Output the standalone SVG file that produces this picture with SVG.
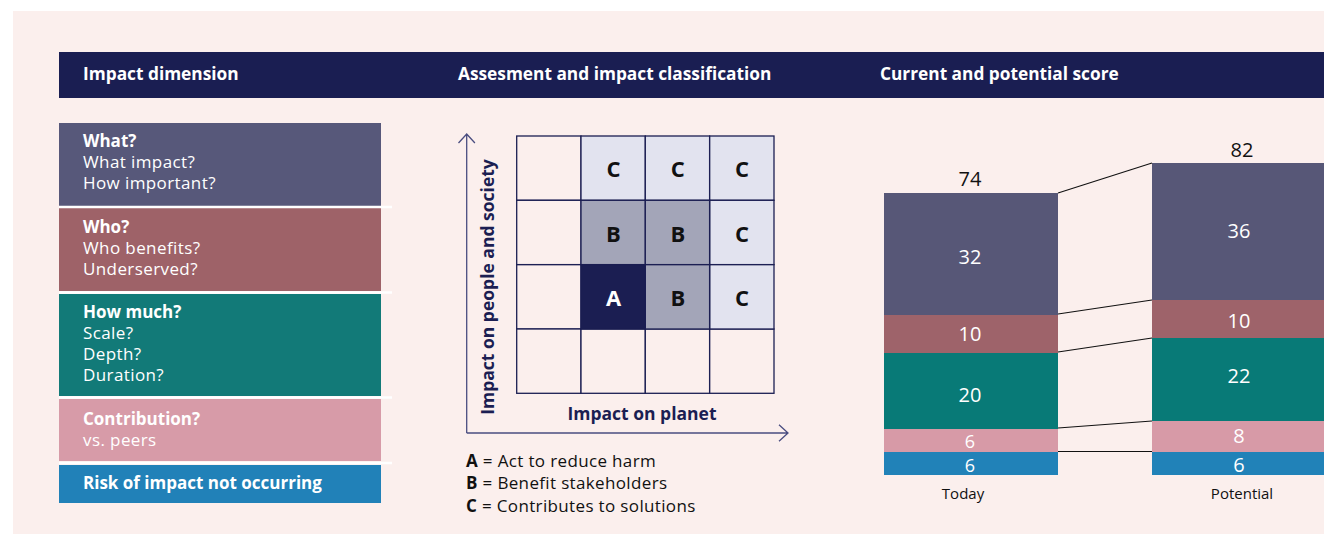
<svg xmlns="http://www.w3.org/2000/svg" width="1324" height="534" viewBox="0 0 1324 534">
<style>
text{font-family:"Open Sans","Noto Sans","Liberation Sans",sans-serif}
.hd{fill:#fff;font-size:17.3px;font-weight:700}
.bx{fill:#fff;font-size:17px;letter-spacing:0.4px}
.bb{font-weight:700;letter-spacing:0}
.cell{stroke:#1B1E52;stroke-width:1.3}
.lt{font-size:22px;font-weight:700;text-anchor:middle}
.ax{fill:#1B1E52;font-size:17.5px;font-weight:700}
.lg{fill:#111;font-size:17px;letter-spacing:0.35px}
.sv{fill:#fff;font-size:20px;text-anchor:middle}
.sm{font-size:18px}
.tot{fill:#111;font-size:20px;text-anchor:middle}
.cap{fill:#111;font-size:15px;text-anchor:middle}
.conn{stroke:#111;stroke-width:1.1;fill:none}
.axis{stroke:#4A4D80;stroke-width:1.3;fill:none}
</style>
<rect x="0" y="0" width="1324" height="534" fill="#fff"/>
<rect x="13" y="11" width="1311" height="523" fill="#FBEFED"/>
<g id="header">
<rect x="59" y="52" width="1265" height="46" fill="#1A1E52"/>
<text class="hd" x="83" y="80">Impact dimension</text>
<text class="hd" x="458" y="80">Assesment and impact classification</text>
<text class="hd" x="880" y="80">Current and potential score</text>
</g>
<g id="dim-what">
<rect x="59" y="123" width="322" height="83" fill="#57587A"/>
<text class="bx" x="83" y="147"><tspan class="bb">What?</tspan><tspan x="83" dy="21">What impact?</tspan><tspan x="83" dy="21">How important?</tspan></text>
</g>
<g id="dim-who">
<rect x="59" y="208" width="322" height="83" fill="#9E6268"/>
<text class="bx" x="83" y="233"><tspan class="bb">Who?</tspan><tspan x="83" dy="21">Who benefits?</tspan><tspan x="83" dy="21">Underserved?</tspan></text>
</g>
<g id="dim-howmuch">
<rect x="59" y="294" width="322" height="102" fill="#127A78"/>
<text class="bx" x="83" y="318"><tspan class="bb">How much?</tspan><tspan x="83" dy="21">Scale?</tspan><tspan x="83" dy="21">Depth?</tspan><tspan x="83" dy="21">Duration?</tspan></text>
</g>
<g id="dim-contribution">
<rect x="59" y="399" width="322" height="62" fill="#D79BA8"/>
<text class="bx" x="83" y="425"><tspan class="bb">Contribution?</tspan><tspan x="83" dy="21">vs. peers</tspan></text>
</g>
<g id="dim-risk">
<rect x="59" y="465" width="322" height="38" fill="#2181B8"/>
<text class="bx bb" x="83" y="489">Risk of impact not occurring</text>
</g>
<g id="matrix">
<g fill="#FBEFED">
<rect class="cell" x="516.7" y="136" width="64.3" height="64.3"/>
<rect class="cell" x="516.7" y="200.3" width="64.3" height="64.3"/>
<rect class="cell" x="516.7" y="264.7" width="64.3" height="64.3"/>
<rect class="cell" x="516.7" y="329" width="64.3" height="64.3"/>
<rect class="cell" x="581" y="329" width="64.3" height="64.3"/>
<rect class="cell" x="645.3" y="329" width="64.3" height="64.3"/>
<rect class="cell" x="709.7" y="329" width="64.3" height="64.3"/>
</g>
<g fill="#E2E3EF">
<rect class="cell" x="581" y="136" width="64.3" height="64.3"/>
<rect class="cell" x="645.3" y="136" width="64.3" height="64.3"/>
<rect class="cell" x="709.7" y="136" width="64.3" height="64.3"/>
<rect class="cell" x="709.7" y="200.3" width="64.3" height="64.3"/>
<rect class="cell" x="709.7" y="264.7" width="64.3" height="64.3"/>
</g>
<g fill="#A3A5B8">
<rect class="cell" x="581" y="200.3" width="64.3" height="64.3"/>
<rect class="cell" x="645.3" y="200.3" width="64.3" height="64.3"/>
<rect class="cell" x="645.3" y="264.7" width="64.3" height="64.3"/>
</g>
<rect class="cell" x="581" y="264.7" width="64.3" height="64.3" fill="#1B1E52"/>
<g fill="#111">
<text class="lt" x="613.5" y="177">C</text>
<text class="lt" x="677.8" y="177">C</text>
<text class="lt" x="742" y="177">C</text>
<text class="lt" x="613.5" y="241.5">B</text>
<text class="lt" x="677.8" y="241.5">B</text>
<text class="lt" x="742" y="241.5">C</text>
<text class="lt" x="613.5" y="306" fill="#fff">A</text>
<text class="lt" x="677.8" y="306">B</text>
<text class="lt" x="742" y="306">C</text>
</g>
</g>
<g id="axes">
<path class="axis" d="M466.7 433 V134 M458.5 143 L466.7 134 L474.9 143"/>
<path class="axis" d="M466.7 433 H788 M779 424.8 L788 433 L779 441.2"/>
<text class="ax" transform="translate(494 287) rotate(-90)" text-anchor="middle">Impact on people and society</text>
<text class="ax" x="642" y="420" text-anchor="middle">Impact on planet</text>
</g>
<g id="legend">
<text class="lg" x="466" y="467"><tspan font-weight="700">A</tspan> = Act to reduce harm</text>
<text class="lg" x="466" y="489"><tspan font-weight="700">B</tspan> = Benefit stakeholders</text>
<text class="lg" x="466" y="512"><tspan font-weight="700">C</tspan> = Contributes to solutions</text>
</g>
<g id="bar-today">
<rect x="884" y="193" width="174" height="122" fill="#575777"/>
<rect x="884" y="315" width="174" height="38" fill="#9E636A"/>
<rect x="884" y="353" width="174" height="76" fill="#087A77"/>
<rect x="884" y="429" width="174" height="23" fill="#D79AA7"/>
<rect x="884" y="452" width="174" height="23" fill="#2182B8"/>
<text class="tot" x="970" y="186">74</text>
<text class="sv" x="970" y="264">32</text>
<text class="sv" x="970" y="341">10</text>
<text class="sv" x="970" y="402">20</text>
<text class="sv sm" x="970" y="448">6</text>
<text class="sv sm" x="970" y="472">6</text>
<text class="cap" x="963" y="499">Today</text>
</g>
<g id="bar-potential">
<rect x="1152" y="163" width="172" height="137" fill="#575777"/>
<rect x="1152" y="300" width="172" height="38" fill="#9E636A"/>
<rect x="1152" y="338" width="172" height="83" fill="#087A77"/>
<rect x="1152" y="421" width="172" height="31" fill="#D79AA7"/>
<rect x="1152" y="452" width="172" height="23" fill="#2182B8"/>
<text class="tot" x="1242" y="157">82</text>
<text class="sv" x="1239" y="238">36</text>
<text class="sv" x="1239" y="328">10</text>
<text class="sv" x="1239" y="383">22</text>
<text class="sv" x="1239" y="443">8</text>
<text class="sv" x="1239" y="472">6</text>
<text class="cap" x="1242" y="499">Potential</text>
</g>
<g id="connectors">
<line class="conn" x1="1058" y1="193" x2="1152" y2="163"/>
<line class="conn" x1="1058" y1="314" x2="1152" y2="300"/>
<line class="conn" x1="1058" y1="352" x2="1152" y2="338"/>
<line class="conn" x1="1058" y1="428" x2="1152" y2="421"/>
<line class="conn" x1="1058" y1="451.5" x2="1152" y2="451.5"/>
</g>
<g id="separators" stroke="#fff" stroke-width="2.5">
<line x1="59" y1="207" x2="392" y2="207"/>
<line x1="59" y1="292.5" x2="392" y2="292.5"/>
<line x1="59" y1="397.5" x2="392" y2="397.5"/>
<line x1="59" y1="463" x2="392" y2="463"/>
</g>
</svg>
